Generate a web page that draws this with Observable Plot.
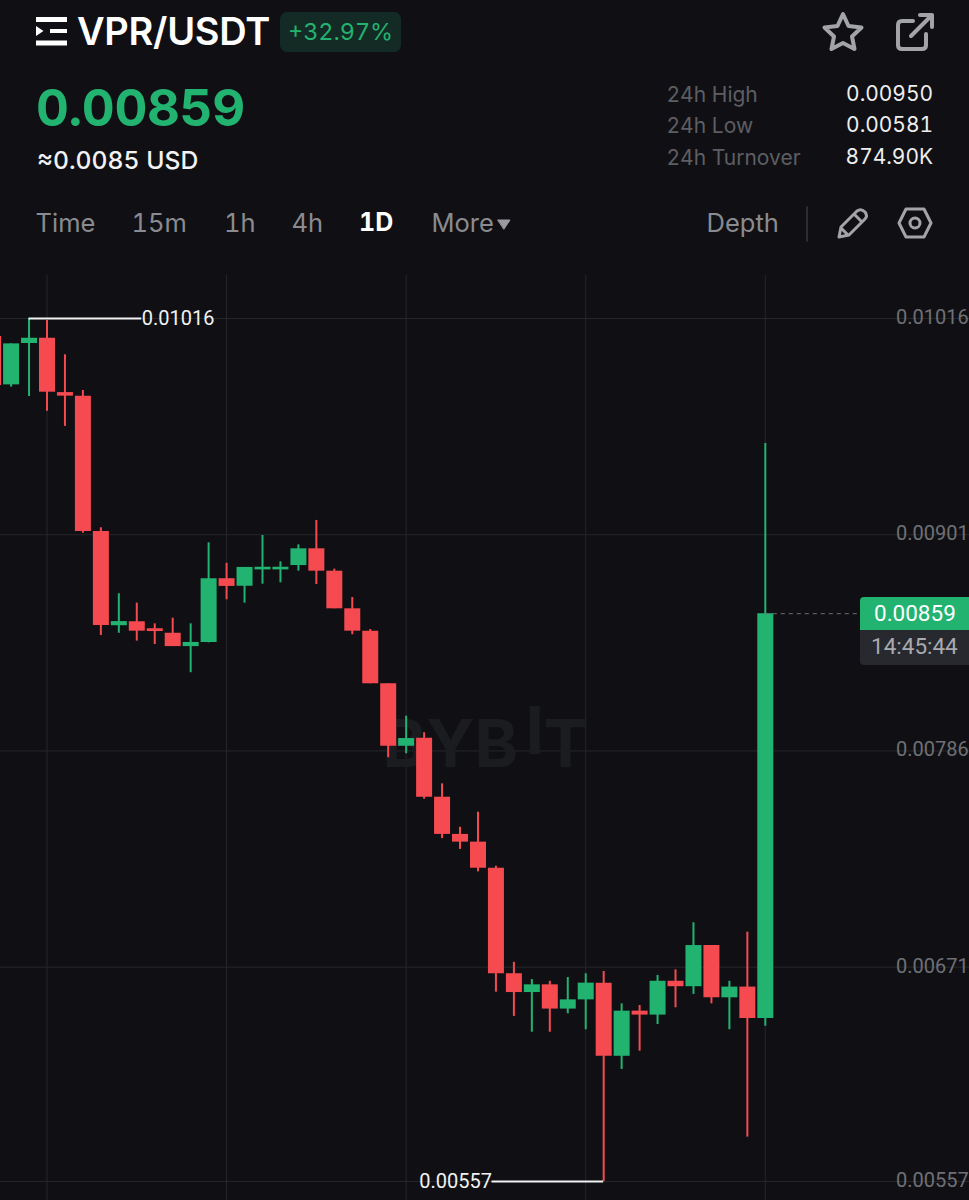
<!DOCTYPE html>
<html>
<head>
<meta charset="utf-8">
<script src="https://cdn.jsdelivr.net/npm/d3@7"></script>
<script src="https://cdn.jsdelivr.net/npm/@observablehq/plot@0.6"></script>
<style>
html,body{margin:0;padding:0;background:#101014;}
#page{position:relative;width:969px;height:1200px;overflow:hidden;background:#101014;font-family:Inter,sans-serif;font-variant-numeric:tabular-nums;}
.t{position:absolute;white-space:nowrap;line-height:1;}
.tab{font-size:25.5px;color:#8a8b90;top:210px;font-weight:400;}
.stat{font-size:21px;color:#5d5e63;left:666.5px;}
.val{font-size:20.9px;color:#eeeeee;right:36px;}
svg.icon{position:absolute;overflow:visible;}
#chart{position:absolute;left:0;top:275px;}
</style>
</head>
<body>
<div id="page">
  <svg class="icon" style="left:0;top:0" width="80" height="60">
    <rect x="36" y="17" width="31" height="5" fill="#fff"/>
    <rect x="36" y="40.5" width="31" height="5" fill="#fff"/>
    <rect x="50" y="29" width="17" height="4" fill="#fff"/>
    <path d="M36 26 L43.5 31 L36 36 Z" fill="#fff"/>
  </svg>
  <div class="t" style="left:77px;top:12px;font-size:38px;font-weight:600;color:#fff;letter-spacing:-0.3px">VPR/USDT</div>
  <div style="position:absolute;left:280px;top:12px;width:121px;height:40px;border-radius:7px;background:#142a24"></div>
  <div class="t" style="left:288px;top:20px;font-size:23.4px;color:#23b26f">+32.97%</div>
  <div class="t" style="left:36px;top:82px;font-size:51px;font-weight:700;color:#22b371;letter-spacing:-0.4px">0.00859</div>
  <div class="t" style="left:37px;top:148px;font-size:24.7px;font-weight:500;color:#f2f2f2">≈0.0085 USD</div>

  <svg class="icon" style="left:0;top:0" width="969" height="275" fill="none" stroke="#a3a4a8" stroke-width="4" stroke-linejoin="round" stroke-linecap="round">
    <path d="M843 14 L848.5 26 L861.5 27.5 L852 36.5 L854.5 49 L843 43 L831.5 49 L834 36.5 L824.5 27.5 L837.5 26 Z"/>
    <path d="M926 34 V45 Q926 49 922 49 H902 Q898 49 898 45 V25 Q898 21 902 21 H913"/>
    <path d="M911 36 L932 15 M920 15 H932 V27"/>
    <path d="M839 237 L841 227 L857 211 Q861 208 865 212 Q868 216 865 219 L849 235 Z M854 214 L862 222 M841 228 L848 235" stroke-width="3"/>
    <path d="M906 209 H924 L931 223 L924 237 H906 L899 223 Z" stroke-width="3"/>
    <circle cx="915" cy="223" r="5" stroke-width="3"/>
    <path d="M807 207 V241" stroke="#36373b" stroke-width="1.5"/>
    <path d="M498 220 H510 L504 229 Z" fill="#9a9ba0" stroke="#9a9ba0" stroke-width="1"/>
  </svg>

  <div class="t stat" style="top:84px">24h High</div>
  <div class="t stat" style="top:115px">24h Low</div>
  <div class="t stat" style="top:147px">24h Turnover</div>
  <div class="t val" style="top:84px">0.00950</div>
  <div class="t val" style="top:115px">0.00581</div>
  <div class="t val" style="top:147px">874.90K</div>

  <div class="t tab" style="left:35.5px">Time</div>
  <div class="t tab" style="left:131.5px">15m</div>
  <div class="t tab" style="left:224px">1h</div>
  <div class="t tab" style="left:291.5px">4h</div>
  <div class="t tab" style="left:359px;font-weight:700;color:#fff;font-size:25px">1D</div>
  <div class="t tab" style="left:431.5px">More</div>
  <div class="t tab" style="left:706.5px">Depth</div>

  <div id="chart"></div>

  <div style="position:absolute;left:860px;top:597px;width:109px;height:33px;background:#22b371;border-radius:4px 0 0 0"></div>
  <div style="position:absolute;left:860px;top:630px;width:109px;height:35px;background:#27292e;border-radius:0 0 0 4px"></div>
  <div class="t" style="left:874px;top:602px;font-family:Roboto,sans-serif;font-size:22.5px;color:#fff">0.00859</div>
  <div class="t" style="left:871px;top:635px;font-family:Roboto,sans-serif;font-size:22.5px;color:#a9aaae">14:45:44</div>
</div>
<script>
const GREEN = "#22b371";
const RED = "#f44a50";
const GRID = "#25262a";

const days = [-3,-2,-1,0,1,2,3,4,5,6,7,8,9,10,11,12,13,14,15,16,17,18,19,20,21,22,23,24,25,26,27,28,29,30,31,32,33,34,35,36,37,38,39,40];
const opens = [0.010064,0.009807,0.010027,0.010055,0.009766,0.009747,0.009027,0.008526,0.008547,0.008510,0.008486,0.008415,0.008437,0.008776,0.008736,0.008823,0.008823,0.008846,0.008935,0.008816,0.008616,0.008497,0.008217,0.007885,0.007928,0.007614,0.007416,0.007375,0.007236,0.006675,0.006575,0.006616,0.006487,0.006536,0.006625,0.006236,0.006476,0.006455,0.006635,0.006606,0.006825,0.006547,0.006604,0.006437];
const closes = [0.009804,0.010025,0.010055,0.009768,0.009747,0.009027,0.008527,0.008548,0.008497,0.008495,0.008415,0.008437,0.008776,0.008735,0.008836,0.008837,0.008837,0.008935,0.008816,0.008616,0.008497,0.008217,0.007885,0.007926,0.007614,0.007416,0.007375,0.007236,0.006675,0.006575,0.006616,0.006487,0.006536,0.006625,0.006236,0.006476,0.006455,0.006635,0.006606,0.006825,0.006547,0.006604,0.006437,0.008590];
const highs = [0.010064,0.010025,0.010160,0.010149,0.009967,0.009777,0.009047,0.008696,0.008646,0.008536,0.008566,0.008536,0.008967,0.008858,0.008836,0.009006,0.008866,0.008956,0.009086,0.008827,0.008676,0.008506,0.008217,0.008045,0.007957,0.007685,0.007454,0.007534,0.007247,0.006736,0.006644,0.006635,0.006655,0.006675,0.006687,0.006515,0.006506,0.006666,0.006696,0.006946,0.006825,0.006635,0.006896,0.009495];
const lows = [0.009804,0.009795,0.009745,0.009667,0.009586,0.009018,0.008474,0.008486,0.008444,0.008426,0.008415,0.008276,0.008435,0.008664,0.008646,0.008747,0.008754,0.008816,0.008745,0.008616,0.008478,0.008217,0.007824,0.007845,0.007603,0.007394,0.007336,0.007217,0.006577,0.006448,0.006364,0.006364,0.006462,0.006377,0.005570,0.006166,0.006263,0.006405,0.006494,0.006565,0.006515,0.006377,0.005806,0.006396];
const candles = days.map((d,i)=>({d,o:opens[i],c:closes[i],h:highs[i],l:lows[i],dir:closes[i]>=opens[i]?"up":"down"}));

const priceTicks = [0.01016,0.00901,0.00786,0.00671,0.00557];
const priceLabels = ["0.01016","0.00901","0.00786","0.00671","0.00557"];
const timeTicks = [0,10,20,30,40];
const lastPrice = 0.00859;
const watermark = [
  {s:"BYB",dx:382,dy:445},
  {s:"I",dx:525,dy:432},
  {s:"T",dx:543,dy:445}
];

const plot = Plot.plot({
  width:969, height:925,
  marginTop:0, marginRight:0, marginBottom:0, marginLeft:0,
  style:{background:"transparent",overflow:"hidden"},
  x:{axis:null,domain:[0,40],range:[46.5,764.8]},
  y:{axis:null,domain:[0.00557,0.01016],range:[906,43]},
  color:{domain:["up","down"],range:[GREEN,RED]},
  marks:[
    Plot.ruleX(timeTicks,{x:d=>d,stroke:GRID,strokeWidth:1}),
    Plot.ruleY(priceTicks,{y:d=>d,stroke:GRID,strokeWidth:1}),
    ...watermark.map(w=>Plot.text([w.s],{frameAnchor:"top-left",dx:w.dx,dy:w.dy,textAnchor:"start",lineAnchor:"top",fontSize:66,fontWeight:700,fontFamily:"Inter",fill:"#1b1c20"})),
    Plot.ruleX(candles,{x:"d",y1:"l",y2:"h",stroke:"dir",strokeWidth:2}),
    Plot.ruleX(candles,{x:"d",y1:"o",y2:"c",stroke:"dir",strokeWidth:16}),
    Plot.ruleY([0.01016],{y:d=>d,x1:-1,x2:5.28,stroke:"#f2f2f2",strokeWidth:2}),
    Plot.ruleY([0.00557],{y:d=>d,x1:24.78,x2:31,stroke:"#f2f2f2",strokeWidth:2}),
    Plot.text(["0.01016"],{x:5.28,y:0.01016,textAnchor:"start",fill:"#f2f2f2",fontSize:20,fontFamily:"Roboto"}),
    Plot.text(["0.00557"],{x:24.78,y:0.00557,textAnchor:"end",fill:"#f2f2f2",fontSize:20,fontFamily:"Roboto"}),
    Plot.ruleY([lastPrice],{y:d=>d,x1:40,x2:45.3,stroke:"#6c6d72",strokeWidth:1,strokeDasharray:"4 4"}),
    Plot.text(priceTicks,{y:d=>d,text:(d,i)=>priceLabels[i],frameAnchor:"left",dx:895.5,dy:-1,textAnchor:"start",fill:"#6f7075",fontSize:20,fontFamily:"Roboto"})
  ]
});
document.getElementById("chart").appendChild(plot);
</script>
</body>
</html>
